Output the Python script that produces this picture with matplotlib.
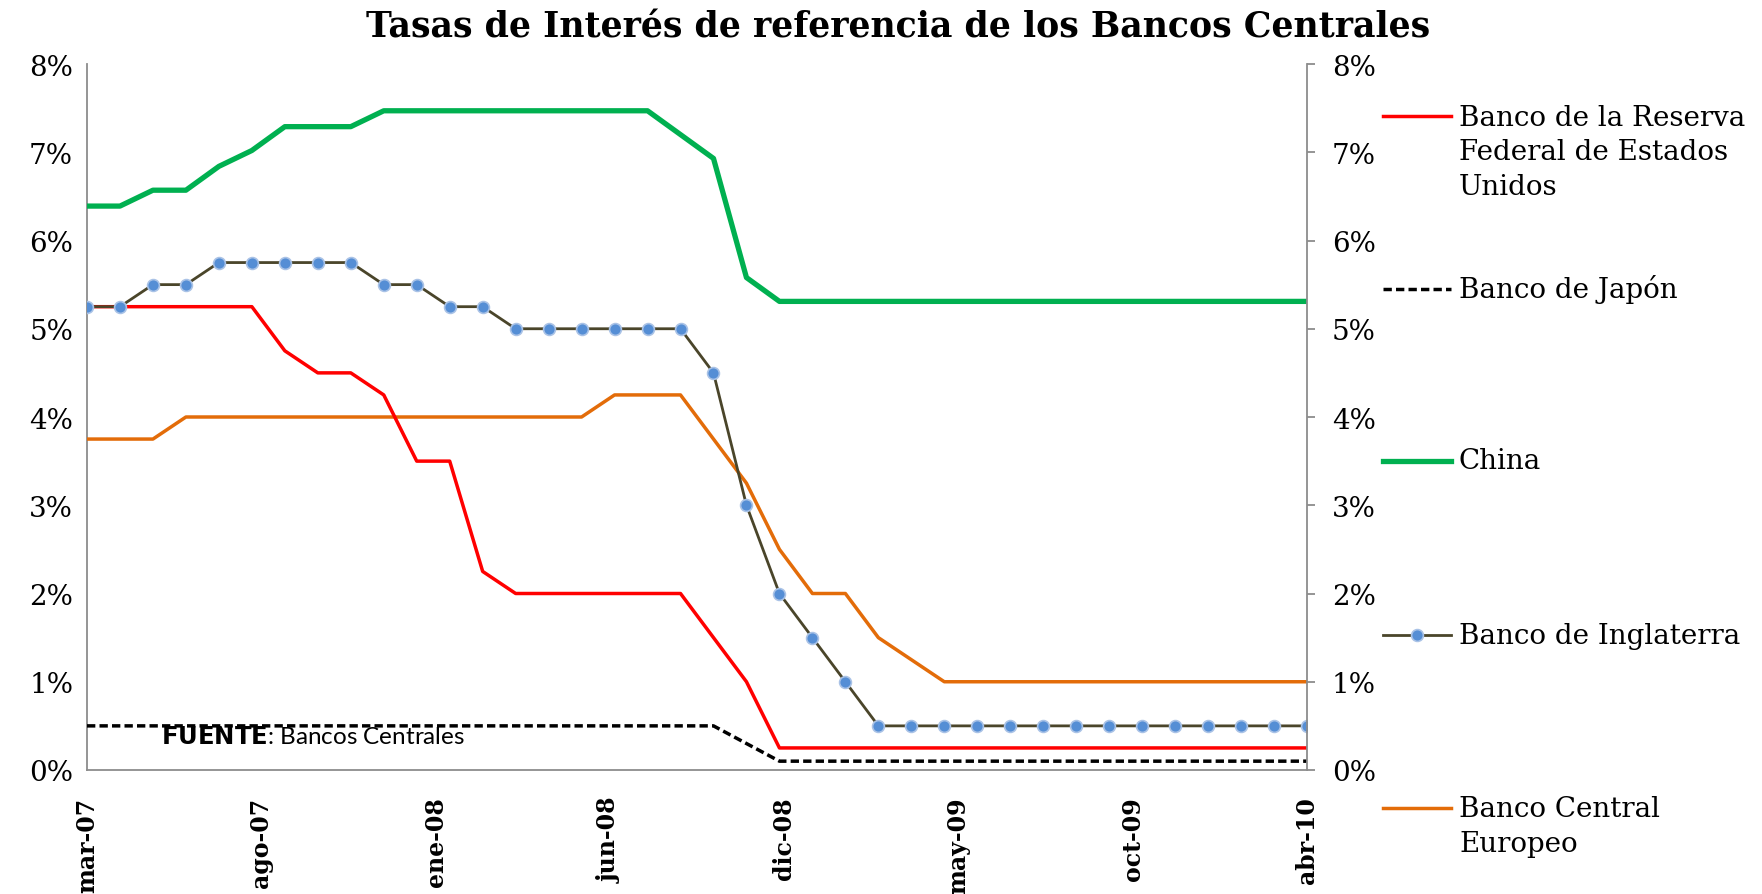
import matplotlib
matplotlib.use("Agg")
import matplotlib.pyplot as plt
from matplotlib.lines import Line2D
from matplotlib.ticker import FuncFormatter, FixedLocator

# ---- data (monthly, mar-07 .. abr-10) ----
n_months = 38
tick_labels = ["mar-07", "ago-07", "ene-08", "jun-08", "dic-08", "may-09", "oct-09", "abr-10"]

fed = [5.25, 5.25, 5.25, 5.25, 5.25, 5.25, 4.75, 4.5, 4.5, 4.25, 3.5, 3.5, 2.25, 2.0, 2.0,
       2.0, 2.0, 2.0, 2.0, 1.5, 1.0] + [0.25] * 17
japon = [0.5] * 20 + [0.3] + [0.1] * 17
china = [6.39, 6.39, 6.57, 6.57, 6.84, 7.02, 7.29, 7.29, 7.29] + [7.47] * 9 + \
        [7.2, 6.93, 5.58] + [5.31] * 17
inglaterra = [5.25, 5.25, 5.5, 5.5, 5.75, 5.75, 5.75, 5.75, 5.75, 5.5, 5.5, 5.25, 5.25,
              5.0, 5.0, 5.0, 5.0, 5.0, 5.0, 4.5, 3.0, 2.0, 1.5, 1.0] + [0.5] * 14
bce = [3.75, 3.75, 3.75] + [4.0] * 13 + [4.25, 4.25, 4.25, 3.75, 3.25, 2.5, 2.0, 2.0, 1.5,
       1.25] + [1.0] * 12

labels = ["Banco de la Reserva\nFederal de Estados\nUnidos", "Banco de Japón", "China",
          "Banco de Inglaterra", "Banco Central\nEuropeo"]

W, H = 1762, 895
fig = plt.figure(figsize=(W / 100, H / 100), dpi=100)
ax = fig.add_axes([87 / W, 1 - 771 / H, (1307 - 87) / W, (771 - 65) / H])

x = list(range(n_months))
c_fed, c_jp, c_cn, c_boe, c_bce = "#FF0000", "#000000", "#00B050", "#4A452A", "#E36C09"
mk = dict(marker="o", markersize=8.5, markerfacecolor="#558ED5", markeredgecolor="#A9C2E6",
          markeredgewidth=1.2)
jp_ls = (0, (2.4, 1.2))

ax.plot(x, china, color=c_cn, lw=3.8, solid_joinstyle="round", zorder=3)
ax.plot(x, bce, color=c_bce, lw=2.5, zorder=3)
ax.plot(x, fed, color=c_fed, lw=2.5, zorder=3)
ax.plot(x, japon, color=c_jp, lw=2.5, ls=jp_ls, zorder=3)
ax.plot(x, inglaterra, color=c_boe, lw=2.0, zorder=4, **mk)

serif = ["DejaVu Serif"]
ax.set_xlim(0, n_months - 1)
ax.set_ylim(0, 8)
pct = FuncFormatter(lambda v, p: f"{v:.0f}%")
ax.yaxis.set_major_locator(FixedLocator(range(0, 9)))
ax.yaxis.set_major_formatter(pct)
tick_pos = [i * (n_months - 1) / 7 for i in range(8)]
ax.set_xticks(tick_pos)
ax.set_xticklabels(tick_labels, rotation=90, fontfamily=serif, fontweight="bold", fontsize=17)
for s in ["top", "right"]:
    ax.spines[s].set_visible(False)
for s in ["left", "bottom"]:
    ax.spines[s].set_color("#8C8C8C")
    ax.spines[s].set_linewidth(1.3)
ax.tick_params(axis="x", length=0, pad=19)
ax.tick_params(axis="y", length=0, pad=10)
for t in ax.get_yticklabels():
    t.set_fontfamily(serif)
    t.set_fontsize(20)

ax2 = ax.twinx()
ax2.set_ylim(0, 8)
ax2.yaxis.set_major_locator(FixedLocator(range(0, 9)))
ax2.yaxis.set_major_formatter(pct)
for s in ["top", "left", "bottom"]:
    ax2.spines[s].set_visible(False)
ax2.spines["right"].set_color("#8C8C8C")
ax2.spines["right"].set_linewidth(1.3)
ax2.tick_params(axis="y", direction="out", length=6, width=1.3, color="#8C8C8C", pad=12)
for t in ax2.get_yticklabels():
    t.set_fontfamily(serif)
    t.set_fontsize(20)

fig.text(898 / W, 1 - 28 / H, "Tasas de Interés de referencia de los Bancos Centrales",
         ha="center", va="center", fontfamily=serif, fontweight="heavy", fontsize=25)

ax.text(161 / W, 1 - 737 / H, r"$\bf{FUENTE}$: Bancos Centrales", transform=fig.transFigure,
        ha="left", va="center", fontfamily="Lato", fontsize=17.5)

# ---- legend (manual) ----
hx0, hx1, tx = 1383, 1451, 1459
entries = [
    (117, 153, labels[0], dict(color=c_fed, lw=2.5)),
    (290, 290, labels[1], dict(color=c_jp, lw=2.5, ls=jp_ls)),
    (462, 462, labels[2], dict(color=c_cn, lw=3.8)),
    (636, 636, labels[3], dict(color=c_boe, lw=2.0)),
    (809, 827, labels[4], dict(color=c_bce, lw=2.5)),
]
for yh, yt, lab, st in entries:
    fig.add_artist(Line2D([hx0 / W, hx1 / W], [1 - yh / H] * 2, transform=fig.transFigure, **st))
    fig.text(tx / W, 1 - yt / H, lab, ha="left", va="center", fontfamily=serif, fontsize=20,
             linespacing=1.38)
fig.add_artist(Line2D([(hx0 + hx1) / 2 / W], [1 - 636 / H], transform=fig.transFigure,
                      linestyle="none", **mk))

fig.savefig("out.png", dpi=100)
